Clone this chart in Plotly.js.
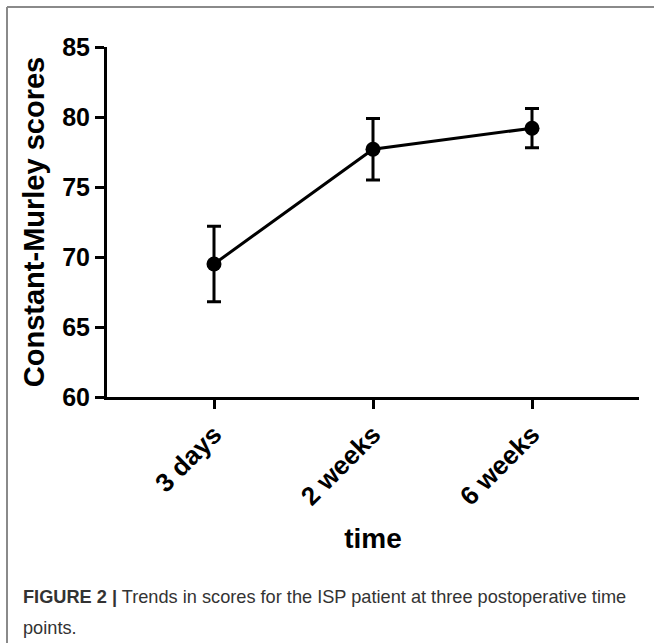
<!DOCTYPE html>
<html>
<head>
<meta charset="utf-8">
<script src="https://cdn.plot.ly/plotly-3.0.1.min.js"></script>
<style>html,body{margin:0;padding:0;background:#fff;}#chart{width:654px;height:643px;}</style>
</head>
<body>
<div id="chart"></div>
<script>
const categories = ["3 days", "2 weeks", "6 weeks"];
const scores = [69.5, 77.7, 79.2];
const errors = [2.7, 2.2, 1.4];
const yTicks = [60, 65, 70, 75, 80, 85];
const captionLines = [
  "<b>FIGURE 2 |</b> Trends in scores for the ISP patient at three postoperative time",
  "points."
];

const W = 654, H = 643;
const M = {l: 107, r: 15, t: 47, b: 246};
const pw = W - M.l - M.r, ph = H - M.t - M.b;
const px = x => (x - M.l) / pw;
const py = y => (H - M.b - y) / ph;

const trace = {
  x: categories,
  y: scores,
  type: "scatter",
  mode: "lines+markers",
  line: {color: "#000", width: 3},
  marker: {color: "#000", size: 15},
  error_y: {type: "data", array: errors, visible: true, color: "#000", thickness: 3, width: 7},
  showlegend: false,
  hoverinfo: "none"
};

const font = "Liberation Sans, Arial, sans-serif";
const captionY = [597, 628];

const layout = {
  width: W, height: H,
  margin: M,
  paper_bgcolor: "#fff", plot_bgcolor: "#fff",
  xaxis: {
    type: "category",
    range: [-0.673, 2.673],
    showline: true, linecolor: "#000", linewidth: 3,
    ticks: "outside", ticklen: 9, tickwidth: 3, tickcolor: "#000",
    showgrid: false, zeroline: false,
    tickangle: -45,
    tickfont: {family: font, size: 26, color: "#000", weight: "bold"},
    title: {text: "time", font: {family: font, size: 28, color: "#000", weight: "bold"}, standoff: 19}
  },
  yaxis: {
    range: [60, 85],
    tickvals: yTicks,
    showline: true, linecolor: "#000", linewidth: 3,
    ticks: "outside", ticklen: 9, tickwidth: 3, tickcolor: "#000",
    showgrid: false, zeroline: false,
    tickfont: {family: font, size: 25, color: "#000", weight: "bold"},
    title: {text: "Constant-Murley scores", font: {family: font, size: 29, color: "#000", weight: "bold"}, standoff: 10}
  },
  shapes: [
    {type: "line", xref: "paper", yref: "paper", x0: px(7), x1: px(7), y0: py(7), y1: py(643), line: {color: "#8a8a8a", width: 2}},
    {type: "line", xref: "paper", yref: "paper", x0: px(7), x1: px(654), y0: py(7), y1: py(7), line: {color: "#8a8a8a", width: 2}}
  ],
  annotations: captionLines.map((t, i) => ({
    xref: "paper", yref: "paper", x: px(21), y: py(captionY[i]),
    xanchor: "left", yanchor: "middle", align: "left", showarrow: false,
    text: t,
    font: {family: font, size: 18.2, color: "#333"}
  }))
};

Plotly.newPlot("chart", [trace], layout, {staticPlot: true, displayModeBar: false});
</script>
</body>
</html>
